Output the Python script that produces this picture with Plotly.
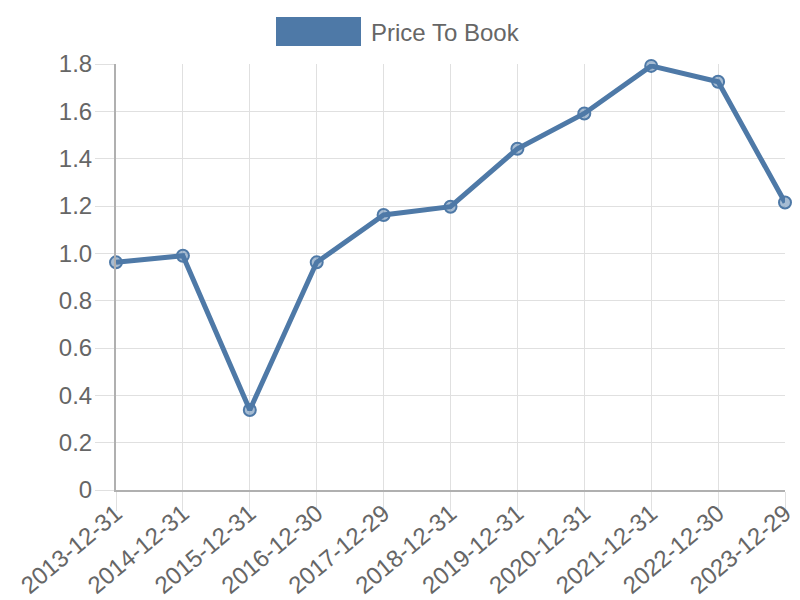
import plotly.graph_objects as go

dates = ["2013-12-31", "2014-12-31", "2015-12-31", "2016-12-30", "2017-12-29",
         "2018-12-31", "2019-12-31", "2020-12-31", "2021-12-31", "2022-12-30", "2023-12-29"]
price_to_book = [0.962, 0.990, 0.338, 0.962, 1.162, 1.197, 1.442, 1.591, 1.792, 1.725, 1.215]
y_ticks = [0, 0.2, 0.4, 0.6, 0.8, 1.0, 1.2, 1.4, 1.6, 1.8]
y_tick_text = ["0", "0.2", "0.4", "0.6", "0.8", "1.0", "1.2", "1.4", "1.6", "1.8"]
series_name = "Price To Book"

blue = "#4e79a7"
font = "Liberation Sans, Arial, sans-serif"

# plot area target in page pixels (page has an 8px body margin)
PX0, PX1, PY0, PY1 = 116, 785, 64, 490
OFF = 8

fig = go.Figure()
fig.add_trace(go.Scatter(
    x=dates, y=price_to_book, mode="lines+markers", name=series_name,
    line=dict(color=blue, width=5),
    marker=dict(size=12, color="rgba(78,121,167,0.5)", line=dict(color=blue, width=2)),
    showlegend=False, cliponaxis=False,
))

W, H = 792, 592
fig.update_layout(
    width=W, height=H,
    margin=dict(l=PX0 - OFF, r=OFF + W - PX1, t=PY0 - OFF, b=OFF + H - PY1, autoexpand=False),
    paper_bgcolor="white", plot_bgcolor="white",
    font=dict(family=font, size=24, color="#666666"),
    xaxis=dict(
        type="category", range=[0, len(dates) - 1],
        showgrid=True, gridcolor="#e0e0e0", gridwidth=1,
        ticks="outside", ticklen=19, tickcolor="#e0e0e0", tickwidth=1,
        tickangle=-40, ticklabelstandoff=-21,
        showline=True, linecolor="#b0b0b0", linewidth=2,
        tickfont=dict(size=24, color="#666666"), automargin=False,
    ),
    yaxis=dict(
        range=[0, 1.8], tickvals=y_ticks, ticktext=y_tick_text,
        showgrid=True, gridcolor="#e0e0e0", gridwidth=1,
        ticks="outside", ticklen=19, tickcolor="#e0e0e0", tickwidth=1,
        ticklabelstandoff=-2,
        showline=True, linecolor="#b0b0b0", linewidth=2, zeroline=False,
        tickfont=dict(size=24, color="#666666"), automargin=False,
    ),
    shapes=[dict(type="rect", xref="paper", yref="paper",
                 x0=(276 - PX0) / (PX1 - PX0), x1=(361 - PX0) / (PX1 - PX0),
                 y0=(PY1 - 46) / (PY1 - PY0), y1=(PY1 - 17) / (PY1 - PY0),
                 fillcolor=blue, line=dict(width=0))],
    annotations=[dict(text=series_name, xref="paper", yref="paper",
                      x=(369 - PX0) / (PX1 - PX0), y=(PY1 - 32) / (PY1 - PY0),
                      xanchor="left", yanchor="middle", showarrow=False,
                      font=dict(size=24, color="#666666", family=font))],
)

fig.write_html("out.html")
